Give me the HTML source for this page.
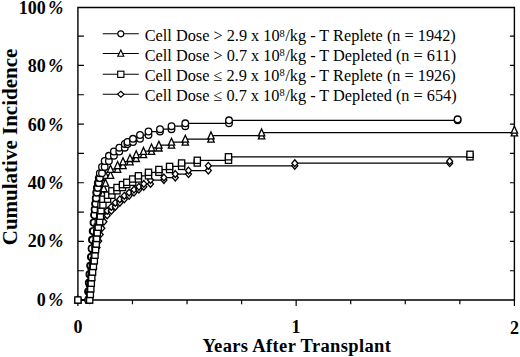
<!DOCTYPE html>
<html><head><meta charset="utf-8"><style>html,body{margin:0;padding:0;background:#fff;overflow:hidden}svg{display:block}</style></head>
<body><svg width="520" height="357" viewBox="0 0 520 357">
<style>
.ax{fill:none;stroke:#000;stroke-width:1.4}
.tk{fill:none;stroke:#000;stroke-width:1.2}
.ln{fill:none;stroke:#000;stroke-width:1.25}
.mk *{fill:#fff;stroke:#000;stroke-width:1.3}
.lgl{stroke-width:1.1}
.lgm *{stroke-width:1.15}
text{font-family:"Liberation Serif",serif;fill:#000}
.yl text,.xl text{font-weight:bold;font-size:18px}
.lg{font-size:16.3px}
.pc{font-style:italic}
.sup{font-size:10.5px}
.tt{font-weight:bold;font-size:18.5px;letter-spacing:0.36px}
.yt{font-weight:bold;font-size:21px}
</style>
<rect width="520" height="357" fill="#fff"/>
<path class="ax" d="M77.9 300.0 V7.5 H514.4 V300.0 Z"/><path class="tk" d="M77.9 270.74h6 M514.4 270.74h-4.5 M77.9 241.40h6 M514.4 241.40h-4.5 M77.9 212.07h6 M514.4 212.07h-4.5 M77.9 182.73h6 M514.4 182.73h-4.5 M77.9 153.40h6 M514.4 153.40h-4.5 M77.9 124.07h6 M514.4 124.07h-4.5 M77.9 94.73h6 M514.4 94.73h-4.5 M77.9 65.40h6 M514.4 65.40h-4.5 M77.9 36.06h6 M514.4 36.06h-4.5 M77.90 300.0v6 M132.46 300.0v4.2 M187.03 300.0v4.2 M241.59 300.0v4.2 M296.15 300.0v6 M350.71 300.0v4.2 M405.27 300.0v4.2 M459.84 300.0v4.2 M514.40 300.0v6"/>
<g class="yl"><text x="63.3" y="305.9" text-anchor="end">0<tspan class="pc" dx="2.6">%</tspan></text><text x="63.3" y="247.4" text-anchor="end">20<tspan class="pc" dx="2.6">%</tspan></text><text x="63.3" y="189.0" text-anchor="end">40<tspan class="pc" dx="2.6">%</tspan></text><text x="63.3" y="130.5" text-anchor="end">60<tspan class="pc" dx="2.6">%</tspan></text><text x="63.3" y="72.1" text-anchor="end">80<tspan class="pc" dx="2.6">%</tspan></text><text x="63.3" y="13.6" text-anchor="end">100<tspan class="pc" dx="2.6">%</tspan></text></g>
<g class="xl"><text x="77.9" y="332.6" text-anchor="middle">0</text><text x="296.1" y="333.1" text-anchor="middle">1</text><text x="514.4" y="333.7" text-anchor="middle">2</text></g>
<text class="tt" x="296.8" y="352.3" text-anchor="middle">Years After Transplant</text>
<text class="yt" transform="translate(16.8 147) rotate(-90)" text-anchor="middle">Cumulative Incidence</text>
<path class="ln lgl" d="M102.8 33.8 H138.8"/><g class="mk lgm"><circle cx="120.8" cy="33.8" r="3.0"/></g><text class="lg" x="144.7" y="41.3">Cell Dose &gt; 2.9 x 10<tspan class="sup" x="279.6" dy="-4.7">8</tspan><tspan x="285.3" dy="4.7">/kg - T Replete (n = 1942)</tspan></text><path class="ln lgl" d="M102.8 53.5 H138.8"/><g class="mk lgm"><path d="M120.8 50.1L123.8 56.2H117.8Z"/></g><text class="lg" x="144.7" y="60.9">Cell Dose &gt; 0.7 x 10<tspan class="sup" x="279.6" dy="-4.7">8</tspan><tspan x="285.3" dy="4.7">/kg - T Depleted (n = 611)</tspan></text><path class="ln lgl" d="M102.8 74.3 H138.8"/><g class="mk lgm"><rect x="117.7" y="71.2" width="6.2" height="6.2"/></g><text class="lg" x="144.7" y="81.0">Cell Dose &#8804; 2.9 x 10<tspan class="sup" x="279.6" dy="-4.7">8</tspan><tspan x="285.3" dy="4.7">/kg - T Replete (n = 1926)</tspan></text><path class="ln lgl" d="M102.8 94.3 H138.8"/><g class="mk lgm"><path d="M120.8 91.3L124.1 94.3L120.8 97.3L117.5 94.3Z"/></g><text class="lg" x="144.7" y="100.5">Cell Dose &#8804; 0.7 x 10<tspan class="sup" x="279.6" dy="-4.7">8</tspan><tspan x="285.3" dy="4.7">/kg - T Depleted (n = 654)</tspan></text>
<path class="ln" d="M77.9 300.0 L89.5 300.0 L89.5 293.4 L90.1 293.4 L90.1 286.8 L90.7 286.8 L90.7 280.2 L91.2 280.2 L91.2 273.6 L91.9 273.6 L91.9 267.0 L92.9 267.0 L92.9 260.5 L93.9 260.5 L93.9 254.0 L95.2 254.0 L95.2 247.5 L97.0 247.5 L97.0 241.1 L98.7 241.1 L98.7 234.6 L100.2 234.6 L100.2 228.2 L101.8 228.2 L101.8 221.7 L103.9 221.7 L103.9 215.4 L107.2 215.4 L107.2 210.9 L111.3 210.9 L111.3 206.9 L115.3 206.9 L115.3 202.8 L119.8 202.8 L119.8 199.3 L124.3 199.3 L124.3 195.8 L129.1 195.8 L129.1 192.6 L134.0 192.6 L134.0 189.6 L138.9 189.6 L138.9 186.8 L143.8 186.8 L143.8 183.9 L150.5 183.9 L150.5 180.0 L163.9 180.0 L163.9 177.5 L175.3 177.5 L175.3 174.0 L188.5 174.0 L188.5 170.5 L208.3 170.5 L208.3 165.8 L294.8 165.8 L294.8 163.2 L449.7 163.2"/>
<g class="mk"><path d="M77.9 296.6L80.9 300.0L77.9 303.4L74.9 300.0Z"/><path d="M89.5 296.6L92.5 300.0L89.5 303.4L86.5 300.0Z"/><path d="M89.5 290.0L92.5 293.4L89.5 296.8L86.5 293.4Z"/><path d="M90.1 290.0L93.1 293.4L90.1 296.8L87.1 293.4Z"/><path d="M90.1 283.4L93.1 286.8L90.1 290.2L87.1 286.8Z"/><path d="M90.7 283.4L93.7 286.8L90.7 290.2L87.7 286.8Z"/><path d="M90.7 276.8L93.7 280.2L90.7 283.6L87.7 280.2Z"/><path d="M91.2 276.8L94.2 280.2L91.2 283.6L88.2 280.2Z"/><path d="M91.2 270.2L94.2 273.6L91.2 277.0L88.2 273.6Z"/><path d="M91.9 270.2L94.9 273.6L91.9 277.0L88.9 273.6Z"/><path d="M91.9 263.6L94.9 267.0L91.9 270.4L88.9 267.0Z"/><path d="M92.9 263.6L95.9 267.0L92.9 270.4L89.9 267.0Z"/><path d="M92.9 257.1L95.9 260.5L92.9 263.9L89.9 260.5Z"/><path d="M93.9 257.1L96.9 260.5L93.9 263.9L90.9 260.5Z"/><path d="M93.9 250.6L96.9 254.0L93.9 257.4L90.9 254.0Z"/><path d="M95.2 250.6L98.2 254.0L95.2 257.4L92.2 254.0Z"/><path d="M95.2 244.1L98.2 247.5L95.2 250.9L92.2 247.5Z"/><path d="M97.0 244.1L100.0 247.5L97.0 250.9L94.0 247.5Z"/><path d="M97.0 237.7L100.0 241.1L97.0 244.5L94.0 241.1Z"/><path d="M98.7 237.7L101.7 241.1L98.7 244.5L95.7 241.1Z"/><path d="M98.7 231.2L101.7 234.6L98.7 238.0L95.7 234.6Z"/><path d="M100.2 231.2L103.2 234.6L100.2 238.0L97.2 234.6Z"/><path d="M100.2 224.8L103.2 228.2L100.2 231.6L97.2 228.2Z"/><path d="M101.8 224.8L104.8 228.2L101.8 231.6L98.8 228.2Z"/><path d="M101.8 218.3L104.8 221.7L101.8 225.1L98.8 221.7Z"/><path d="M103.9 218.3L106.9 221.7L103.9 225.1L100.9 221.7Z"/><path d="M103.9 212.0L106.9 215.4L103.9 218.8L100.9 215.4Z"/><path d="M107.2 212.0L110.2 215.4L107.2 218.8L104.2 215.4Z"/><path d="M107.2 207.5L110.2 210.9L107.2 214.3L104.2 210.9Z"/><path d="M111.3 207.5L114.3 210.9L111.3 214.3L108.3 210.9Z"/><path d="M111.3 203.5L114.3 206.9L111.3 210.3L108.3 206.9Z"/><path d="M115.3 203.5L118.3 206.9L115.3 210.3L112.3 206.9Z"/><path d="M115.3 199.4L118.3 202.8L115.3 206.2L112.3 202.8Z"/><path d="M119.8 199.4L122.8 202.8L119.8 206.2L116.8 202.8Z"/><path d="M119.8 195.9L122.8 199.3L119.8 202.7L116.8 199.3Z"/><path d="M124.3 195.9L127.3 199.3L124.3 202.7L121.3 199.3Z"/><path d="M124.3 192.4L127.3 195.8L124.3 199.2L121.3 195.8Z"/><path d="M129.1 192.4L132.1 195.8L129.1 199.2L126.1 195.8Z"/><path d="M129.1 189.2L132.1 192.6L129.1 196.0L126.1 192.6Z"/><path d="M134.0 189.2L137.0 192.6L134.0 196.0L131.0 192.6Z"/><path d="M134.0 186.2L137.0 189.6L134.0 193.0L131.0 189.6Z"/><path d="M138.9 186.2L141.9 189.6L138.9 193.0L135.9 189.6Z"/><path d="M138.9 183.4L141.9 186.8L138.9 190.2L135.9 186.8Z"/><path d="M143.8 183.4L146.8 186.8L143.8 190.2L140.8 186.8Z"/><path d="M143.8 180.5L146.8 183.9L143.8 187.3L140.8 183.9Z"/><path d="M150.5 180.5L153.5 183.9L150.5 187.3L147.5 183.9Z"/><path d="M150.5 176.6L153.5 180.0L150.5 183.4L147.5 180.0Z"/><path d="M163.9 176.6L166.9 180.0L163.9 183.4L160.9 180.0Z"/><path d="M163.9 174.1L166.9 177.5L163.9 180.9L160.9 177.5Z"/><path d="M175.3 174.1L178.3 177.5L175.3 180.9L172.3 177.5Z"/><path d="M175.3 170.6L178.3 174.0L175.3 177.4L172.3 174.0Z"/><path d="M188.5 170.6L191.5 174.0L188.5 177.4L185.5 174.0Z"/><path d="M188.5 167.1L191.5 170.5L188.5 173.9L185.5 170.5Z"/><path d="M208.3 167.1L211.3 170.5L208.3 173.9L205.3 170.5Z"/><path d="M208.3 162.4L211.3 165.8L208.3 169.2L205.3 165.8Z"/><path d="M294.8 162.4L297.8 165.8L294.8 169.2L291.8 165.8Z"/><path d="M294.8 159.8L297.8 163.2L294.8 166.6L291.8 163.2Z"/><path d="M449.7 159.8L452.7 163.2L449.7 166.6L446.7 163.2Z"/><path d="M449.7 157.8L452.7 161.2L449.7 164.6L446.7 161.2Z"/></g>
<path class="ln" d="M77.9 300.0 L89.0 300.0 L89.0 294.4 L89.4 294.4 L89.4 288.8 L89.9 288.8 L89.9 283.2 L90.4 283.2 L90.4 277.6 L90.8 277.6 L90.8 272.0 L91.5 272.0 L91.5 266.4 L92.2 266.4 L92.2 260.8 L92.8 260.8 L92.8 255.2 L93.5 255.2 L93.5 249.6 L94.1 249.6 L94.1 244.0 L94.7 244.0 L94.7 238.4 L95.2 238.4 L95.2 232.8 L95.8 232.8 L95.8 227.2 L96.6 227.2 L96.6 221.6 L97.5 221.6 L97.5 216.1 L98.4 216.1 L98.4 210.6 L99.6 210.6 L99.6 205.1 L100.9 205.1 L100.9 199.6 L101.8 199.6 L101.8 194.0 L102.8 194.0 L102.8 188.4 L103.8 188.4 L103.8 183.0 L105.5 183.0 L105.5 175.1 L110.5 175.1 L110.5 169.1 L117.6 169.1 L117.6 165.4 L123.0 165.4 L123.0 161.6 L130.0 161.6 L130.0 158.3 L136.2 158.3 L136.2 154.5 L143.5 154.5 L143.5 151.2 L151.5 151.2 L151.5 147.8 L158.9 147.8 L158.9 145.0 L171.5 145.0 L171.5 142.0 L185.3 142.0 L185.3 139.0 L211.0 139.0 L211.0 135.7 L261.6 135.7 L261.6 132.7 L514.4 132.7"/>
<g class="mk"><path d="M77.9 296.2L81.1 303.2H74.7Z"/><path d="M89.0 296.2L92.2 303.2H85.8Z"/><path d="M89.0 290.6L92.2 297.6H85.8Z"/><path d="M89.4 290.6L92.6 297.6H86.2Z"/><path d="M89.4 285.0L92.6 292.0H86.2Z"/><path d="M89.9 285.0L93.1 292.0H86.7Z"/><path d="M89.9 279.4L93.1 286.4H86.7Z"/><path d="M90.4 279.4L93.6 286.4H87.2Z"/><path d="M90.4 273.8L93.6 280.8H87.2Z"/><path d="M90.8 273.8L94.0 280.8H87.6Z"/><path d="M90.8 268.2L94.0 275.2H87.6Z"/><path d="M91.5 268.2L94.7 275.2H88.2Z"/><path d="M91.5 262.6L94.7 269.6H88.2Z"/><path d="M92.2 262.6L95.4 269.6H89.0Z"/><path d="M92.2 257.0L95.4 264.0H89.0Z"/><path d="M92.8 257.0L96.0 264.0H89.6Z"/><path d="M92.8 251.4L96.0 258.4H89.6Z"/><path d="M93.5 251.4L96.7 258.4H90.3Z"/><path d="M93.5 245.8L96.7 252.8H90.3Z"/><path d="M94.1 245.8L97.3 252.8H90.9Z"/><path d="M94.1 240.2L97.3 247.2H90.9Z"/><path d="M94.7 240.2L97.9 247.2H91.5Z"/><path d="M94.7 234.6L97.9 241.6H91.5Z"/><path d="M95.2 234.6L98.4 241.6H92.0Z"/><path d="M95.2 229.0L98.4 236.0H92.0Z"/><path d="M95.8 229.0L99.0 236.0H92.6Z"/><path d="M95.8 223.4L99.0 230.4H92.6Z"/><path d="M96.6 223.4L99.8 230.4H93.4Z"/><path d="M96.6 217.8L99.8 224.8H93.4Z"/><path d="M97.5 217.8L100.7 224.8H94.3Z"/><path d="M97.5 212.3L100.7 219.3H94.3Z"/><path d="M98.4 212.3L101.6 219.3H95.2Z"/><path d="M98.4 206.8L101.6 213.8H95.2Z"/><path d="M99.6 206.8L102.8 213.8H96.4Z"/><path d="M99.6 201.3L102.8 208.3H96.4Z"/><path d="M100.9 201.3L104.1 208.3H97.7Z"/><path d="M100.9 195.8L104.1 202.8H97.7Z"/><path d="M101.8 195.8L105.0 202.8H98.5Z"/><path d="M101.8 190.2L105.0 197.2H98.5Z"/><path d="M102.8 190.2L106.0 197.2H99.6Z"/><path d="M102.8 184.6L106.0 191.6H99.6Z"/><path d="M103.8 184.6L107.0 191.6H100.6Z"/><path d="M103.8 179.2L107.0 186.2H100.6Z"/><path d="M105.5 179.2L108.7 186.2H102.3Z"/><path d="M105.5 171.3L108.7 178.3H102.3Z"/><path d="M110.5 171.3L113.7 178.3H107.3Z"/><path d="M110.5 165.3L113.7 172.3H107.3Z"/><path d="M117.6 165.3L120.8 172.3H114.4Z"/><path d="M117.6 161.6L120.8 168.6H114.4Z"/><path d="M123.0 161.6L126.2 168.6H119.8Z"/><path d="M123.0 157.8L126.2 164.8H119.8Z"/><path d="M130.0 157.8L133.2 164.8H126.8Z"/><path d="M130.0 154.5L133.2 161.5H126.8Z"/><path d="M136.2 154.5L139.4 161.5H133.0Z"/><path d="M136.2 150.7L139.4 157.7H133.0Z"/><path d="M143.5 150.7L146.7 157.7H140.3Z"/><path d="M143.5 147.4L146.7 154.4H140.3Z"/><path d="M151.5 147.4L154.7 154.4H148.3Z"/><path d="M151.5 144.0L154.7 151.0H148.3Z"/><path d="M158.9 144.0L162.1 151.0H155.7Z"/><path d="M158.9 141.2L162.1 148.2H155.7Z"/><path d="M171.5 141.2L174.7 148.2H168.3Z"/><path d="M171.5 138.2L174.7 145.2H168.3Z"/><path d="M185.3 138.2L188.5 145.2H182.1Z"/><path d="M185.3 135.2L188.5 142.2H182.1Z"/><path d="M211.0 135.2L214.2 142.2H207.8Z"/><path d="M211.0 131.9L214.2 138.9H207.8Z"/><path d="M261.6 131.9L264.8 138.9H258.4Z"/><path d="M261.6 128.9L264.8 135.9H258.4Z"/><path d="M514.4 128.9L517.6 135.9H511.2Z"/><path d="M514.4 126.2L517.6 133.2H511.2Z"/></g>
<path class="ln" d="M77.9 300.0 L88.1 300.0 L88.1 291.4 L88.8 291.4 L88.8 282.8 L89.4 282.8 L89.4 274.2 L90.1 274.2 L90.1 265.6 L90.9 265.6 L90.9 257.0 L91.6 257.0 L91.6 248.4 L92.0 248.4 L92.0 239.8 L92.7 239.8 L92.7 231.1 L93.5 231.1 L93.5 222.6 L94.1 222.6 L94.1 215.0 L94.6 215.0 L94.6 209.4 L95.1 209.4 L95.1 203.8 L95.7 203.8 L95.7 198.2 L96.2 198.2 L96.2 192.6 L96.9 192.6 L96.9 187.8 L97.8 187.8 L97.8 183.0 L98.8 183.0 L98.8 178.1 L99.8 178.1 L99.8 173.2 L102.0 173.2 L102.0 166.9 L104.7 166.9 L104.7 161.0 L108.9 161.0 L108.9 155.8 L113.9 155.8 L113.9 151.5 L119.3 151.5 L119.3 147.7 L124.8 147.7 L124.8 144.0 L127.5 144.0 L127.5 142.0 L133.0 142.0 L133.0 138.8 L140.0 138.8 L140.0 135.0 L148.5 135.0 L148.5 131.5 L160.0 131.5 L160.0 129.2 L171.5 129.2 L171.5 126.2 L185.3 126.2 L185.3 123.3 L229.0 123.3 L229.0 120.3 L457.6 120.3"/>
<g class="mk"><circle cx="77.9" cy="300.0" r="3.3"/><circle cx="88.1" cy="300.0" r="3.3"/><circle cx="88.1" cy="291.4" r="3.3"/><circle cx="88.8" cy="291.4" r="3.3"/><circle cx="88.8" cy="282.8" r="3.3"/><circle cx="89.4" cy="282.8" r="3.3"/><circle cx="89.4" cy="274.2" r="3.3"/><circle cx="90.1" cy="274.2" r="3.3"/><circle cx="90.1" cy="265.6" r="3.3"/><circle cx="90.9" cy="265.6" r="3.3"/><circle cx="90.9" cy="257.0" r="3.3"/><circle cx="91.6" cy="257.0" r="3.3"/><circle cx="91.6" cy="248.4" r="3.3"/><circle cx="92.0" cy="248.4" r="3.3"/><circle cx="92.0" cy="239.8" r="3.3"/><circle cx="92.7" cy="239.8" r="3.3"/><circle cx="92.7" cy="231.1" r="3.3"/><circle cx="93.5" cy="231.1" r="3.3"/><circle cx="93.5" cy="222.6" r="3.3"/><circle cx="94.1" cy="222.6" r="3.3"/><circle cx="94.1" cy="215.0" r="3.3"/><circle cx="94.6" cy="215.0" r="3.3"/><circle cx="94.6" cy="209.4" r="3.3"/><circle cx="95.1" cy="209.4" r="3.3"/><circle cx="95.1" cy="203.8" r="3.3"/><circle cx="95.7" cy="203.8" r="3.3"/><circle cx="95.7" cy="198.2" r="3.3"/><circle cx="96.2" cy="198.2" r="3.3"/><circle cx="96.2" cy="192.6" r="3.3"/><circle cx="96.9" cy="192.6" r="3.3"/><circle cx="96.9" cy="187.8" r="3.3"/><circle cx="97.8" cy="187.8" r="3.3"/><circle cx="97.8" cy="183.0" r="3.3"/><circle cx="98.8" cy="183.0" r="3.3"/><circle cx="98.8" cy="178.1" r="3.3"/><circle cx="99.8" cy="178.1" r="3.3"/><circle cx="99.8" cy="173.2" r="3.3"/><circle cx="102.0" cy="173.2" r="3.3"/><circle cx="102.0" cy="166.9" r="3.3"/><circle cx="104.7" cy="166.9" r="3.3"/><circle cx="104.7" cy="161.0" r="3.3"/><circle cx="108.9" cy="161.0" r="3.3"/><circle cx="108.9" cy="155.8" r="3.3"/><circle cx="113.9" cy="155.8" r="3.3"/><circle cx="113.9" cy="151.5" r="3.3"/><circle cx="119.3" cy="151.5" r="3.3"/><circle cx="119.3" cy="147.7" r="3.3"/><circle cx="124.8" cy="147.7" r="3.3"/><circle cx="124.8" cy="144.0" r="3.3"/><circle cx="127.5" cy="144.0" r="3.3"/><circle cx="127.5" cy="142.0" r="3.3"/><circle cx="133.0" cy="142.0" r="3.3"/><circle cx="133.0" cy="138.8" r="3.3"/><circle cx="140.0" cy="138.8" r="3.3"/><circle cx="140.0" cy="135.0" r="3.3"/><circle cx="148.5" cy="135.0" r="3.3"/><circle cx="148.5" cy="131.5" r="3.3"/><circle cx="160.0" cy="131.5" r="3.3"/><circle cx="160.0" cy="129.2" r="3.3"/><circle cx="171.5" cy="129.2" r="3.3"/><circle cx="171.5" cy="126.2" r="3.3"/><circle cx="185.3" cy="126.2" r="3.3"/><circle cx="185.3" cy="123.3" r="3.3"/><circle cx="229.0" cy="123.3" r="3.3"/><circle cx="229.0" cy="120.3" r="3.3"/><circle cx="457.6" cy="120.3" r="3.3"/><circle cx="457.6" cy="119.3" r="3.3"/></g>
<path class="ln" d="M77.9 300.0 L89.7 300.0 L89.7 294.4 L90.3 294.4 L90.3 288.8 L90.8 288.8 L90.8 283.2 L91.3 283.2 L91.3 277.6 L91.8 277.6 L91.8 272.0 L92.6 272.0 L92.6 266.4 L93.4 266.4 L93.4 260.8 L94.3 260.8 L94.3 255.2 L95.0 255.2 L95.0 249.6 L95.6 249.6 L95.6 244.0 L96.2 244.0 L96.2 238.4 L96.7 238.4 L96.7 232.8 L97.3 232.8 L97.3 227.2 L98.3 227.2 L98.3 221.7 L99.7 221.7 L99.7 216.2 L100.4 216.2 L100.4 210.6 L101.0 210.6 L101.0 205.0 L102.9 205.0 L102.9 199.2 L107.6 199.2 L107.6 195.2 L111.9 195.2 L111.9 190.8 L117.0 190.8 L117.0 187.5 L122.5 187.5 L122.5 184.6 L126.8 184.6 L126.8 182.3 L132.7 182.3 L132.7 179.0 L138.4 179.0 L138.4 175.8 L148.5 175.8 L148.5 172.3 L158.9 172.3 L158.9 169.5 L169.6 169.5 L169.6 166.4 L181.6 166.4 L181.6 163.0 L197.3 163.0 L197.3 160.3 L228.5 160.3 L228.5 156.8 L470.0 156.8"/>
<g class="mk"><rect x="74.8" y="296.9" width="6.2" height="6.2"/><rect x="86.6" y="296.9" width="6.2" height="6.2"/><rect x="86.6" y="291.3" width="6.2" height="6.2"/><rect x="87.2" y="291.3" width="6.2" height="6.2"/><rect x="87.2" y="285.7" width="6.2" height="6.2"/><rect x="87.7" y="285.7" width="6.2" height="6.2"/><rect x="87.7" y="280.1" width="6.2" height="6.2"/><rect x="88.2" y="280.1" width="6.2" height="6.2"/><rect x="88.2" y="274.5" width="6.2" height="6.2"/><rect x="88.7" y="274.5" width="6.2" height="6.2"/><rect x="88.7" y="268.9" width="6.2" height="6.2"/><rect x="89.5" y="268.9" width="6.2" height="6.2"/><rect x="89.5" y="263.3" width="6.2" height="6.2"/><rect x="90.3" y="263.3" width="6.2" height="6.2"/><rect x="90.3" y="257.7" width="6.2" height="6.2"/><rect x="91.2" y="257.7" width="6.2" height="6.2"/><rect x="91.2" y="252.1" width="6.2" height="6.2"/><rect x="91.9" y="252.1" width="6.2" height="6.2"/><rect x="91.9" y="246.5" width="6.2" height="6.2"/><rect x="92.5" y="246.5" width="6.2" height="6.2"/><rect x="92.5" y="240.9" width="6.2" height="6.2"/><rect x="93.1" y="240.9" width="6.2" height="6.2"/><rect x="93.1" y="235.3" width="6.2" height="6.2"/><rect x="93.6" y="235.3" width="6.2" height="6.2"/><rect x="93.6" y="229.7" width="6.2" height="6.2"/><rect x="94.2" y="229.7" width="6.2" height="6.2"/><rect x="94.2" y="224.1" width="6.2" height="6.2"/><rect x="95.2" y="224.1" width="6.2" height="6.2"/><rect x="95.2" y="218.6" width="6.2" height="6.2"/><rect x="96.6" y="218.6" width="6.2" height="6.2"/><rect x="96.6" y="213.1" width="6.2" height="6.2"/><rect x="97.3" y="213.1" width="6.2" height="6.2"/><rect x="97.3" y="207.5" width="6.2" height="6.2"/><rect x="97.9" y="207.5" width="6.2" height="6.2"/><rect x="97.9" y="201.9" width="6.2" height="6.2"/><rect x="99.8" y="201.9" width="6.2" height="6.2"/><rect x="99.8" y="196.1" width="6.2" height="6.2"/><rect x="104.5" y="196.1" width="6.2" height="6.2"/><rect x="104.5" y="192.1" width="6.2" height="6.2"/><rect x="108.8" y="192.1" width="6.2" height="6.2"/><rect x="108.8" y="187.7" width="6.2" height="6.2"/><rect x="113.9" y="187.7" width="6.2" height="6.2"/><rect x="113.9" y="184.4" width="6.2" height="6.2"/><rect x="119.4" y="184.4" width="6.2" height="6.2"/><rect x="119.4" y="181.5" width="6.2" height="6.2"/><rect x="123.7" y="181.5" width="6.2" height="6.2"/><rect x="123.7" y="179.2" width="6.2" height="6.2"/><rect x="129.6" y="179.2" width="6.2" height="6.2"/><rect x="129.6" y="175.9" width="6.2" height="6.2"/><rect x="135.3" y="175.9" width="6.2" height="6.2"/><rect x="135.3" y="172.7" width="6.2" height="6.2"/><rect x="145.4" y="172.7" width="6.2" height="6.2"/><rect x="145.4" y="169.2" width="6.2" height="6.2"/><rect x="155.8" y="169.2" width="6.2" height="6.2"/><rect x="155.8" y="166.4" width="6.2" height="6.2"/><rect x="166.5" y="166.4" width="6.2" height="6.2"/><rect x="166.5" y="163.3" width="6.2" height="6.2"/><rect x="178.5" y="163.3" width="6.2" height="6.2"/><rect x="178.5" y="159.9" width="6.2" height="6.2"/><rect x="194.2" y="159.9" width="6.2" height="6.2"/><rect x="194.2" y="157.2" width="6.2" height="6.2"/><rect x="225.4" y="157.2" width="6.2" height="6.2"/><rect x="225.4" y="153.7" width="6.2" height="6.2"/><rect x="466.9" y="153.7" width="6.2" height="6.2"/><rect x="466.9" y="151.2" width="6.2" height="6.2"/></g>
</svg></body></html>
